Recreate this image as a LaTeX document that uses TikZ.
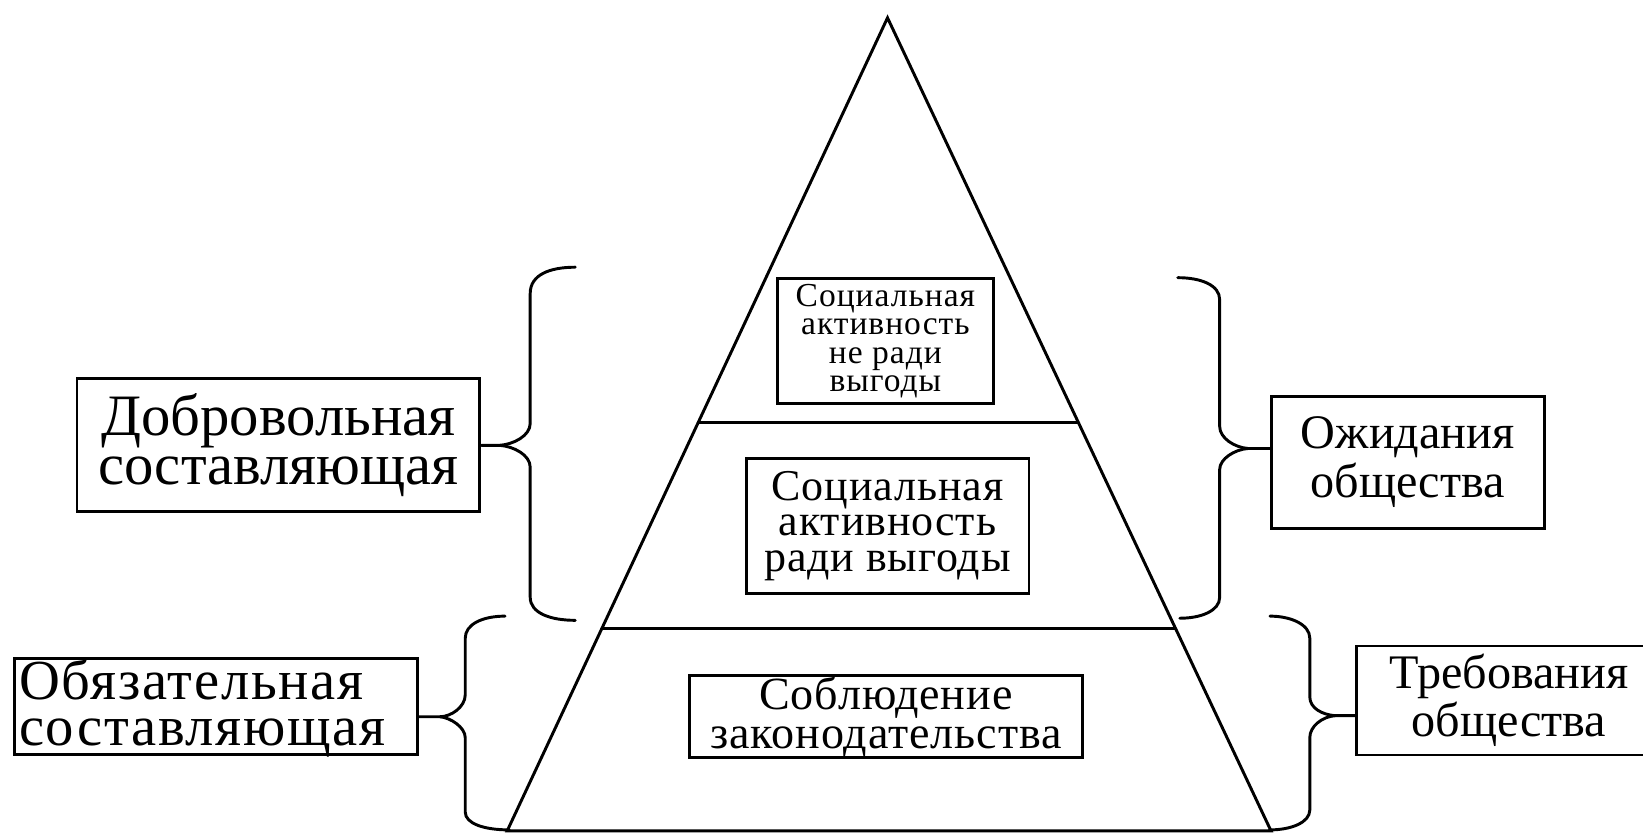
\documentclass[tikz,border=0pt]{standalone}
\usepackage{fontspec}
\setmainfont{Liberation Serif}
\usetikzlibrary{calc}
\tikzset{
  ln/.style={line width=2.8pt, line join=miter, line cap=round},
  box/.style={draw, line width=2.8pt, inner sep=0pt, align=center, anchor=center},
  big/.style={font=\fontsize{56}{46}\selectfont},
  mid/.style={font=\fontsize{46}{46}\selectfont},
}
\begin{document}
\begin{tikzpicture}[x=1pt,y=-1pt]
\clip (0,0) rectangle (1568,796);
\fill[white] (0,0) rectangle (1568,796);
% pyramid
\coordinate (apex) at (847,17);
\coordinate (bl) at (484,793);
\coordinate (br) at (1213,793);
\draw[ln] (apex) -- (bl) -- (br) -- cycle;
\coordinate (l1) at ($(apex)!0.4974!(bl)$);
\coordinate (r1) at ($(apex)!0.4974!(br)$);
\coordinate (l2) at ($(apex)!0.7513!(bl)$);
\coordinate (r2) at ($(apex)!0.7513!(br)$);
\draw[ln] (l1) -- (r1);
\draw[ln] (l2) -- (r2);
% inner boxes
\node[box, minimum width=206pt, minimum height=119pt, font=\fontsize{32}{27}\selectfont\addfontfeature{LetterSpace=3}] (top) at (845,325.5) {Социальная\\активность\\не ради\\выгоды};
\node[box, minimum width=270pt, minimum height=128pt, font=\fontsize{42}{34}\selectfont\addfontfeature{LetterSpace=2}] (midb) at (847,502) {Социальная\\активность\\ради выгоды};
\node[box, minimum width=375pt, minimum height=78pt, font=\fontsize{44}{37}\selectfont\addfontfeature{LetterSpace=2}] (low) at (845.5,684) {Соблюдение\\законодательства};
% side boxes
\node[box, big, minimum width=384.5pt, minimum height=127.5pt] (dobr) at (265.75,424.75) {Добровольная\\составляющая};
\node[box, minimum width=384pt, minimum height=92pt] (obyaz) at (206,674) {};
\node[anchor=west, inner sep=0pt, align=left, font=\fontsize{54}{44}\selectfont\addfontfeature{LetterSpace=3}] (obyazt) at (18,676) {Обязательная\\составляющая};
\node[box, mid, minimum width=261pt, minimum height=126pt] (ozh) at (1343.5,441) {Ожидания\\общества};
\node[box, mid, minimum width=290pt, minimum height=104pt] (treb) at (1440,668.5) {Требования\\общества};
% braces
\draw[ln] (549,255) .. controls (525,255) and (506,262) .. (506,280) -- (506,404)
  .. controls (506,416) and (490,424) .. (477,425) -- (dobr.east |- 0,425);
\draw[ln] (477,425) .. controls (490,426) and (506,434) .. (506,446) -- (506,570)
  .. controls (506,585) and (525,592) .. (549,592);
\draw[ln] (1124,265) .. controls (1146,265) and (1164,272) .. (1164,286) -- (1164,407)
  .. controls (1164,418) and (1178,427) .. (1191,428) -- (ozh.west |- 0,428);
\draw[ln] (1191,428) .. controls (1178,429) and (1164,438) .. (1164,448) -- (1164,570)
  .. controls (1164,583) and (1146,590) .. (1126,590);
\draw[ln] (482,588) .. controls (460,588) and (444,596) .. (444,609) -- (444,663)
  .. controls (444,675) and (430,684) .. (420,684) -- (obyaz.east |- 0,684);
\draw[ln] (420,684) .. controls (430,685) and (444,694) .. (444,704) -- (444,775)
  .. controls (444,786) and (462,792) .. (486,792);
\draw[ln] (1212,588) .. controls (1232,588) and (1250,596) .. (1250,609) -- (1250,665)
  .. controls (1250,676) and (1262,682) .. (1274,683) -- (treb.west |- 0,683);
\draw[ln] (1274,683) .. controls (1262,684) and (1250,693) .. (1250,704) -- (1250,773)
  .. controls (1250,785) and (1232,792) .. (1212,792);
\end{tikzpicture}
\end{document}
